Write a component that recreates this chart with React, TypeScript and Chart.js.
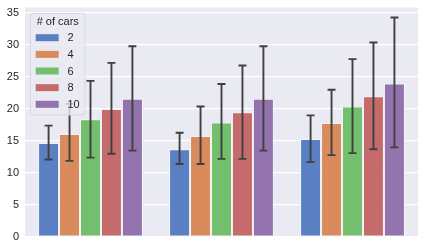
import React, { useEffect, useRef } from "react";
import { Chart, registerables } from "chart.js";

Chart.register(...registerables);

const categories = ["A", "B", "C"];
const seriesLabels = ["2", "4", "6", "8", "10"];
const colors = ["#5a7fc2", "#d98b5c", "#73bf6e", "#c66b6b", "#9373ad"];

const means2 = [14.7, 13.7, 15.3];
const means4 = [16.1, 15.8, 17.8];
const means6 = [18.4, 17.9, 20.4];
const means8 = [20.0, 19.5, 22.0];
const means10 = [21.6, 21.6, 24.0];

const low2 = [12.1, 11.4, 11.7];
const low4 = [11.9, 11.4, 12.8];
const low6 = [12.4, 12.2, 13.1];
const low8 = [13.0, 12.2, 13.7];
const low10 = [13.5, 13.5, 14.0];

const high2 = [17.4, 16.3, 19.0];
const high4 = [20.8, 20.4, 23.0];
const high6 = [24.4, 23.9, 27.8];
const high8 = [27.2, 26.8, 30.4];
const high10 = [29.8, 29.8, 34.3];

const yTicks = [0, 5, 10, 15, 20, 25, 30, 35];
const legendTitle = "# of cars";

const allMeans = [means2, means4, means6, means8, means10];
const allLow = [low2, low4, low6, low8, low10];
const allHigh = [high2, high4, high6, high8, high10];

const FONT = "'Liberation Sans', Arial, sans-serif";

const errorBarPlugin = {
  id: "errorBars",
  afterDatasetsDraw(chart: any) {
    const ctx = chart.ctx;
    const y = chart.scales.y;
    ctx.save();
    ctx.strokeStyle = "#404040";
    ctx.lineWidth = 1.9;
    ctx.lineCap = "butt";
    chart.data.datasets.forEach((ds: any, di: number) => {
      const meta = chart.getDatasetMeta(di);
      meta.data.forEach((bar: any, i: number) => {
        const x = bar.x;
        const yl = y.getPixelForValue(allLow[di][i]);
        const yh = y.getPixelForValue(allHigh[di][i]);
        ctx.beginPath();
        ctx.moveTo(x, yl);
        ctx.lineTo(x, yh);
        ctx.moveTo(x - 4, yl);
        ctx.lineTo(x + 4, yl);
        ctx.moveTo(x - 4, yh);
        ctx.lineTo(x + 4, yh);
        ctx.stroke();
      });
    });
    ctx.restore();
  },
};

const bgPlugin = {
  id: "areaBg",
  beforeDraw(chart: any) {
    const { ctx, chartArea } = chart;
    ctx.save();
    ctx.fillStyle = "#eaeaf2";
    ctx.fillRect(chartArea.left, chartArea.top, chartArea.right - chartArea.left, chartArea.bottom - chartArea.top);
    ctx.restore();
  },
};

const legendPlugin = {
  id: "innerLegend",
  afterDraw(chart: any) {
    const ctx = chart.ctx;
    const left = 30.5;
    const top = 13.5;
    const w = 54.5;
    const h = 101.5;
    ctx.save();
    ctx.globalAlpha = 0.8;
    ctx.fillStyle = "#eaeaf2";
    ctx.beginPath();
    ctx.roundRect(left, top, w, h, 2.5);
    ctx.fill();
    ctx.globalAlpha = 1;
    ctx.strokeStyle = "#d8d8e0";
    ctx.lineWidth = 1;
    ctx.stroke();
    ctx.fillStyle = "#262626";
    ctx.font = `11px ${FONT}`;
    ctx.textAlign = "center";
    ctx.textBaseline = "middle";
    ctx.fillText(legendTitle, left + w / 2, 22);
    chart.data.datasets.forEach((ds: any, i: number) => {
      const cy = 37.7 + i * 16.65;
      ctx.fillStyle = ds.backgroundColor;
      ctx.fillRect(35.7, cy - 3.5, 23, 7);
      ctx.fillStyle = "#262626";
      ctx.textAlign = "left";
      ctx.fillText(ds.label, 67.5, cy + 0.5);
    });
    ctx.restore();
  },
};

export default function App() {
  const ref = useRef<HTMLCanvasElement>(null);
  useEffect(() => {
    const chart = new Chart(ref.current!, {
      type: "bar",
      data: {
        labels: categories,
        datasets: seriesLabels.map((label, i) => ({
          label,
          data: allMeans[i],
          backgroundColor: colors[i],
          borderColor: "#f4f4f8",
          borderWidth: 1,
          borderSkipped: false,
          categoryPercentage: 0.8,
          barPercentage: 1.0,
        })),
      },
      options: {
        animation: false,
        responsive: false,
        maintainAspectRatio: false,
        events: [],
        layout: { padding: { left: 0, right: 8, top: 7.5, bottom: 12 } },
        plugins: { legend: { display: false }, tooltip: { enabled: false } },
        scales: {
          x: { display: false, grid: { display: false } },
          y: {
            min: 0,
            max: 35.86,
            afterFit(scale: any) {
              scale.width = 25;
              scale.paddingTop = 0;
              scale.paddingBottom = 0;
            },
            afterBuildTicks(scale: any) {
              scale.ticks = yTicks.map((v) => ({ value: v }));
            },
            border: { display: false },
            grid: { color: "#ffffff", lineWidth: 1.2, drawTicks: false },
            ticks: {
              color: "#262626",
              padding: 6,
              font: { family: FONT, size: 11 },
            },
          },
        },
      },
      plugins: [bgPlugin, errorBarPlugin, legendPlugin],
    });
    return () => chart.destroy();
  }, []);
  return (
    <div style={{ position: "fixed", left: 0, top: 0, width: 426, height: 249, background: "#ffffff" }}>
      <canvas ref={ref} width={426} height={249} style={{ display: "block" }} />
    </div>
  );
}
